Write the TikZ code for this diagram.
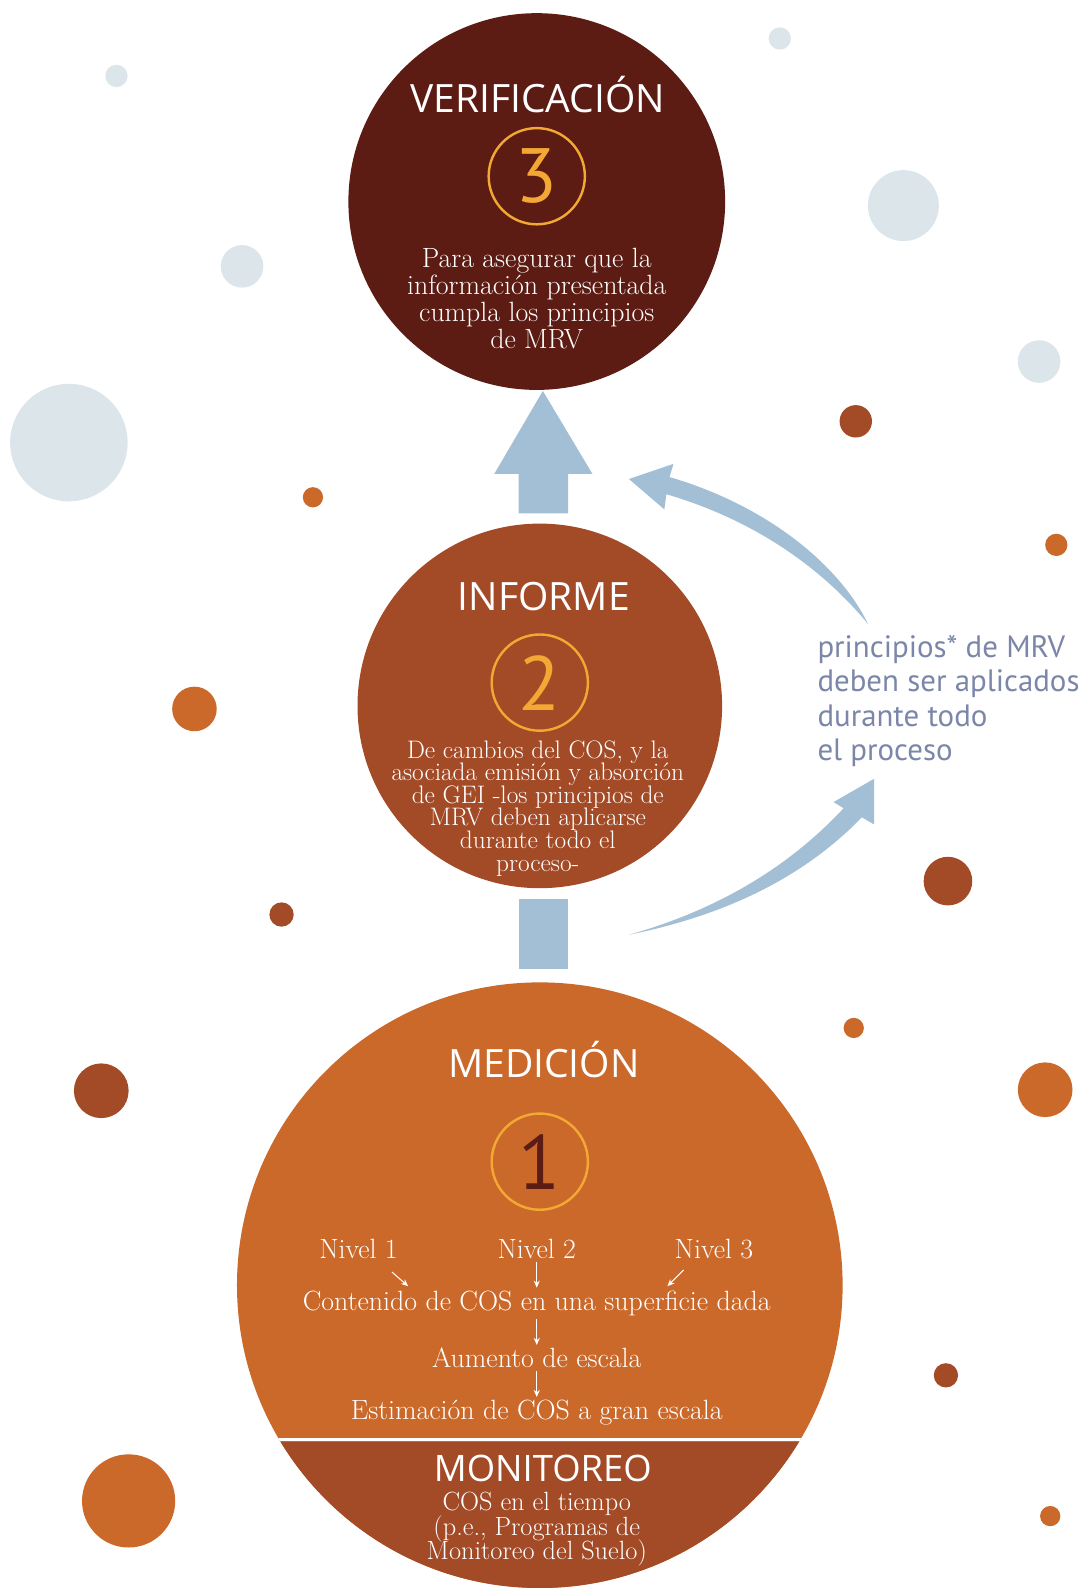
\documentclass[tikz,border=0pt]{standalone}
\usepackage{fontspec}
\newfontfamily\headfont{Open Sans}
\newfontfamily\notefont{PT Sans}
\usetikzlibrary{calc,arrows.meta}
\newcommand\tightlines{\lineskiplimit=-40pt\relax}

\definecolor{maroon}{HTML}{5C1C13}
\definecolor{rust}{HTML}{A34A26}
\definecolor{ochre}{HTML}{CB692B}
\definecolor{gold}{HTML}{F3A834}
\definecolor{flow}{HTML}{A3BFD6}
\definecolor{mist}{HTML}{DCE5EA}
\definecolor{slate}{HTML}{7B86A9}

\tikzset{
	disc/.style={circle, inner sep=0pt},
	ring/.style={circle, draw=gold, line width=2.4pt, minimum size=95pt, inner sep=0pt},
	stagetitle/.style={text=white, inner sep=0pt, font=\headfont\fontsize{38.5}{38.5}\selectfont},
	digit/.style={font=\notefont\fontsize{76}{76}\selectfont},
	copy/.style={text=white, align=center, inner sep=3pt, font=\fontsize{27.5}{26.5}\selectfont\tightlines},
	tiny/.style={white, line width=1pt, -{Stealth[length=7pt,width=6pt]}},
}

\begin{document}
\begin{tikzpicture}[x=1pt,y=-1pt]
			%%%%% START %%%%%
			\useasboundingbox[fill=white] (0,0) rectangle (1073,1568);
			
			% background dots
			\fill[mist] (115,75) circle (11pt);
			\fill[mist] (770,38) circle (11pt);
			\fill[mist] (239,263) circle (21pt);
			\fill[mist] (892,203) circle (35pt);
			\fill[mist] (68,437) circle (58pt);
			\fill[mist] (1026,357) circle (21pt);
			
			\fill[rust] (845,416) circle (16pt);
			\fill[rust] (936,870) circle (24pt);
			\fill[rust] (278,903) circle (12pt);
			\fill[rust] (100,1077) circle (27pt);
			\fill[rust] (934,1358) circle (12pt);
			
			\fill[ochre] (309,491) circle (10pt);
			\fill[ochre] (1043,538) circle (11pt);
			\fill[ochre] (192,700) circle (22pt);
			\fill[ochre] (843,1015) circle (10pt);
			\fill[ochre] (1032,1076) circle (27pt);
			\fill[ochre] (127,1482) circle (46pt);
			\fill[ochre] (1037,1497) circle (10pt);
			
			% stages
			\node[disc, fill=maroon, minimum size=372pt] (ver) at (530,199) {};
			\node[disc, fill=rust, minimum size=360pt] (inf) at (533,697) {};
			\node[disc, fill=ochre, minimum size=598pt] (med) at (533,1269) {};
			
			\begin{scope}
				\clip (med.center) circle (299pt);
				\fill[rust] (0,1424) rectangle (1073,1600);
				\draw[white, line width=3.5pt] (200,1421.5) -- (900,1421.5);
			\end{scope}
			
			% straight arrows
			\coordinate (tip) at (536,386);
			\fill[flow] (512,507) -- (512,468) -- (488,468) -- (tip) -- (585,468) -- (561,468) -- (561,507) -- cycle;
			\fill[flow] (512,888) rectangle (561,957);
			
			% curved arrows
			\fill[flow] (857,616) .. controls (830,560) and (760,500) .. (661,471) -- (665,458) -- (621,473) -- (656,503) -- (658,488) .. controls (750,515) and (815,565) .. (857,616) -- cycle;
			\fill[flow] (621,923) .. controls (710,905) and (790,870) .. (851,807) -- (863,814) -- (863,769) -- (823,792) -- (833,798) .. controls (780,855) and (710,898) .. (621,923) -- cycle;
			
			% 3
			\node[stagetitle] (vtit) at (531,93) {VERIFICACIÓN};
			\node[ring] (vring) at (530,174) {};
			\node[digit, text=gold] (vnum) at (vring) {3};
			\node[copy] (vtxt) at (530,295) {Para asegurar que la\\información presentada\\cumpla los principios\\de MRV};
			
			% 2
			\node[stagetitle] (itit) at (537,589) {INFORME};
			\node[ring] (iring) at (533,674) {};
			\node[digit, text=gold] (inum) at (iring) {2};
			\node[copy, font=\fontsize{25}{22.3}\selectfont\tightlines] (itxt) at (531,798) {De cambios del COS, y la\\asociada emisión y absorción\\de GEI -los principios de\\MRV deben aplicarse\\durante todo el\\proceso-};
			
			% 1
			\node[stagetitle] (mtit) at (537,1046) {MEDICIÓN};
			\node[ring] (mring) at (533,1147) {};
			\node[digit, text=maroon] (mnum) at (mring) {1};
			
			\node[copy] (niv1) at (354,1233) {Nivel 1};
			\node[copy] (niv2) at (530,1233) {Nivel 2};
			\node[copy] (niv3) at (705,1233) {Nivel 3};
			\node[copy] (cont) at (530,1287) {Contenido de COS en una superficie dada};
			\node[copy] (aum) at (530,1341) {Aumento de escala};
			\node[copy] (est) at (530,1395) {Estimación de COS a gran escala};
			
			\coordinate (n1) at (403,1270);
			\coordinate (n3) at (659,1270);
			\draw[tiny] (387,1256) -- (n1);
			\draw[tiny] (675,1254) -- (n3);
			\draw[tiny] (niv2) -- (cont);
			\draw[tiny] (cont) -- (aum);
			\draw[tiny] (aum) -- (est);
			
			\node[stagetitle, font=\headfont\fontsize{36}{36}\selectfont] (mon) at (536,1450) {MONITOREO};
			\node[copy, inner sep=0pt, font=\fontsize{26}{24}\selectfont\tightlines] (mtxt) at (530,1510) {COS en el tiempo\\(p.e., Programas de\\Monitoreo del Suelo)};
			
			% side note
			\node[text=slate, align=left, anchor=west, inner sep=0pt, font=\notefont\fontsize{30.5}{34}\selectfont] (note) at (807,692) {principios* de MRV\\deben ser aplicados\\durante todo\\el proceso};
			
			%%%%% END %%%%%
\end{tikzpicture}
\end{document}
